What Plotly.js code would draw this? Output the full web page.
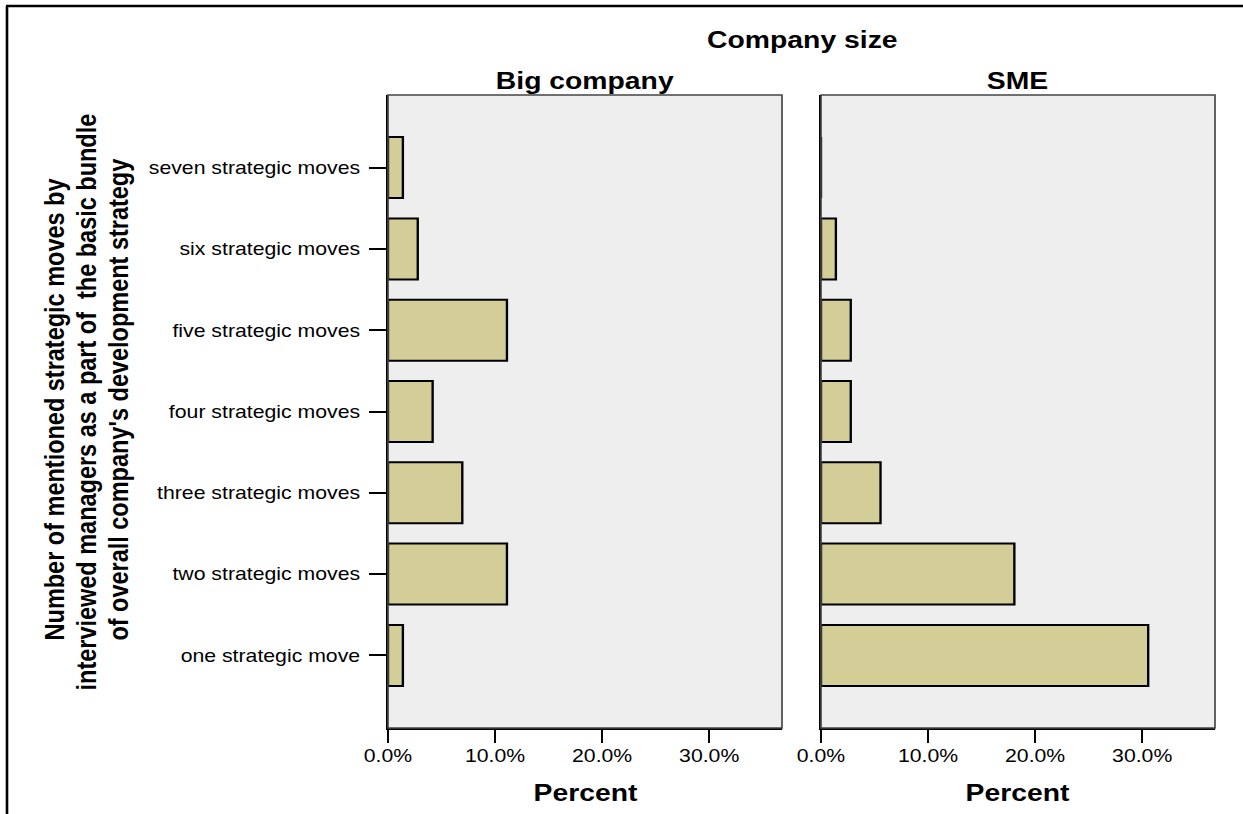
<!DOCTYPE html>
<html>
<head>
<meta charset="utf-8">
<script src="https://cdn.plot.ly/plotly-3.0.1.min.js"></script>
<style>
html,body{margin:0;padding:0;background:#fff;overflow:hidden;width:1243px;height:814px;}
#chart{height:814px;transform-origin:0 0;}
</style>
</head>
<body>
<div id="chart"></div>
<script>
// Categories (bottom to top)
const categories = ["one strategic move","two strategic moves","three strategic moves","four strategic moves","five strategic moves","six strategic moves","seven strategic moves"];
// Percent of all respondents
const bigCompany = [1.39, 11.11, 6.94, 4.17, 11.11, 2.78, 1.39];
const sme = [30.56, 18.06, 5.56, 2.78, 2.78, 1.39, 0];
const panelTitles = ["Big company", "SME"];
const xTickVals = [0, 10, 20, 30];
const xTickText = ["0.0%", "10.0%", "20.0%", "30.0%"];
const yTitleLines = ["Number of mentioned strategic moves by",
                     "interviewed managers as a part of  the basic bundle",
                     "of overall company's development strategy"];

// The reference picture is horizontally stretched; draw narrower and stretch.
const PAGE_W = 1243, PAGE_H = 814;
const W = 1053;
const SX = PAGE_W / W;
const chartDiv = document.getElementById("chart");
chartDiv.style.width = W + "px";
chartDiv.style.transform = "scaleX(" + SX + ")";

const FONT = "Liberation Sans, Arial, sans-serif";
const barStyle = {color: "#d3ce97", line: {color: "#000", width: 2}};

const traces = [
  {type: "bar", orientation: "h", y: categories, x: bigCompany, xaxis: "x", yaxis: "y",
   marker: barStyle, width: 0.75, hoverinfo: "x+y"},
  {type: "bar", orientation: "h", y: categories, x: sme, xaxis: "x2", yaxis: "y2",
   marker: barStyle, width: 0.75, hoverinfo: "x+y"}
];

const px = v => v / PAGE_W;            // page x -> paper fraction
const py = v => (PAGE_H - v) / PAGE_H; // page y -> paper fraction
const xd1 = [px(388), px(782)], xd2 = [px(821), px(1215)];
const yd = [py(728), py(95)];

const xAxisCommon = {
  range: [0, 36.8], tickvals: xTickVals, ticktext: xTickText,
  ticks: "outside", ticklen: 13, tickwidth: 2, tickcolor: "#000",
  ticklabelstandoff: -3,
  showline: true, linecolor: "#000", linewidth: 2, showgrid: false, zeroline: false,
  tickfont: {family: FONT, size: 18, color: "#000"}, fixedrange: true
};
const yAxisCommon = {
  type: "category", categoryorder: "array", categoryarray: categories,
  range: [-0.893, 6.893], showgrid: false, zeroline: false,
  showline: true, linecolor: "#000", linewidth: 2, fixedrange: true
};

const annots = [
  {text: "<b>Company size</b>", x: px(802), y: py(40), size: 24},
  {text: "<b>" + panelTitles[0] + "</b>", x: px(585), y: py(80), size: 24},
  {text: "<b>" + panelTitles[1] + "</b>", x: px(1018), y: py(80), size: 24},
  {text: "<b>Percent</b>", x: px(585), y: py(792), size: 24},
  {text: "<b>Percent</b>", x: px(1018), y: py(792), size: 24}
].map(a => ({text: a.text, xref: "paper", yref: "paper", x: a.x, y: a.y,
  xanchor: "center", yanchor: "middle", showarrow: false,
  font: {family: FONT, size: a.size, color: "#000"}}));

const yTitleX = [55, 87, 119];
const yTitleY = [410, 402, 400];
yTitleLines.forEach((t, i) => annots.push({
  text: "<b>" + t + "</b>", xref: "paper", yref: "paper", x: px(yTitleX[i]), y: py(yTitleY[i]),
  textangle: -90, xanchor: "center", yanchor: "middle", showarrow: false,
  font: {family: FONT, size: 23.5, color: "#000"}
}));

const layout = {
  width: W, height: PAGE_H,
  margin: {l: 0, r: 0, t: 0, b: 0},
  paper_bgcolor: "#fff", plot_bgcolor: "#eeeeee",
  showlegend: false, bargap: 0.25,
  xaxis: Object.assign({}, xAxisCommon, {domain: xd1, anchor: "y"}),
  xaxis2: Object.assign({}, xAxisCommon, {domain: xd2, anchor: "y2"}),
  yaxis: Object.assign({}, yAxisCommon, {domain: yd, anchor: "x",
    ticks: "outside", ticklen: 14, tickwidth: 2, tickcolor: "#000",
    ticklabelstandoff: 4,
    tickfont: {family: FONT, size: 18, color: "#000"}}),
  yaxis2: Object.assign({}, yAxisCommon, {domain: yd, anchor: "x2",
    ticks: "", showticklabels: false}),
  shapes: [
    {type: "rect", xref: "paper", yref: "paper", x0: xd1[0], x1: xd1[1], y0: yd[0], y1: yd[1],
     line: {color: "#444", width: 1.4}, layer: "above"},
    {type: "rect", xref: "paper", yref: "paper", x0: xd2[0], x1: xd2[1], y0: yd[0], y1: yd[1],
     line: {color: "#444", width: 1.4}, layer: "above"},
    {type: "line", xref: "paper", yref: "paper", x0: px(6), x1: 1, y0: py(6), y1: py(6),
     line: {color: "#000", width: 2.5}},
    {type: "line", xref: "paper", yref: "paper", x0: px(7), x1: px(7), y0: 0, y1: py(6),
     line: {color: "#000", width: 2.2}}
  ],
  annotations: annots
};

Plotly.newPlot(chartDiv, traces, layout, {displayModeBar: false, staticPlot: true});
</script>
</body>
</html>
